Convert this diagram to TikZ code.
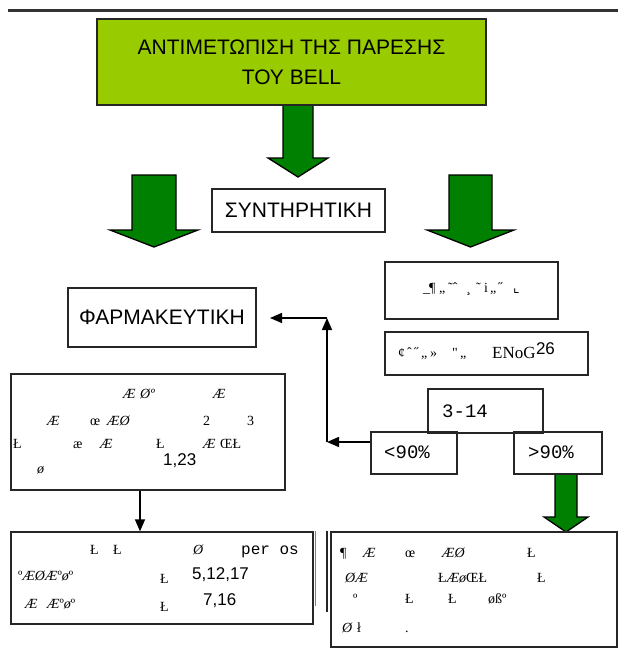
\documentclass[tikz,border=0pt]{standalone}
\usepackage{fontspec}
\setmainfont{Liberation Sans}
\newfontfamily\garbfont{Liberation Serif}
\newfontfamily\codefont{Liberation Mono}
\newfontfamily\symfont{DejaVu Sans}
\usetikzlibrary{
  arrows.meta,
  positioning,
}
\definecolor{titlegreen}{HTML}{99CC00}
\definecolor{arrowgreen}{HTML}{008000}
\tikzset{
  >={Triangle[length=12pt,width=10pt]},
}

\begin{document}
\begin{tikzpicture}[x=1pt, y=-1pt,
      box/.style={draw=black!85, line width=1.3pt, inner sep=0pt},
      label/.style={font=\fontsize{21}{30}\selectfont},
      garb/.style={font=\garbfont\fontsize{14}{16}\selectfont, anchor=base west, inner sep=0pt},
      refs/.style={font=\fontsize{17}{17}\selectfont, anchor=base west, inner sep=0pt},
      code/.style={font=\codefont\fontsize{19}{19}\selectfont, anchor=base west, inner sep=0pt},
      fatarrow/.style={draw=black, line width=1.3pt, fill=arrowgreen, line join=miter},
      conn/.style={draw=black, line width=1.5pt},
    ]
      \useasboundingbox (0,0) rectangle (618,648);
      \fill[white] (0,0) rectangle (618,648);
      % header rule
      \draw[line width=2.5pt, black!80] (8,10.5) -- (618,10.5);

      % block arrows
      \foreach \cx/\top/\sw/\hw/\base/\tip in {298/105/15/30/158/177, 154/175/22/44/230/247,
                                               470.5/175/21.5/43.5/230/247, 566/474/11/22/517/532}
        \draw[fatarrow] (\cx-\sw,\top) -- (\cx+\sw,\top) -- (\cx+\sw,\base) -- (\cx+\hw,\base)
                        -- (\cx,\tip) -- (\cx-\hw,\base) -- (\cx-\sw,\base) -- cycle;

      % boxes
      \node[box, label, fill=titlegreen, align=center, minimum width=389pt, minimum height=86pt]
        (title) at (291.5,62) {ΑΝΤΙΜΕΤΩΠΙΣΗ ΤΗΣ ΠΑΡΕΣΗΣ\\ΤΟΥ BELL};
      \node[box, label, fill=white, minimum width=173pt, minimum height=43pt] (conserv) at (298.5,210.5) {ΣΥΝΤΗΡΗΤΙΚΗ};
      \node[box, label, minimum width=188pt, minimum height=59pt] (pharma) at (162,317.5) {ΦΑΡΜΑΚΕΥΤΙΚΗ};
      \node[box, minimum width=173pt, minimum height=57pt] (physio) at (471.5,290.5) {};
      \node[box, minimum width=203pt, minimum height=43pt] (enog) at (486.5,353.5) {};
      \node[box, minimum width=115pt, minimum height=44pt] (score) at (485.5,411) {};
      \node[box, minimum width=86pt, minimum height=42pt] (low) at (414,453) {};
      \node[box, minimum width=88pt, minimum height=42pt] (high) at (558,453) {};
      \node[box, minimum width=274pt, minimum height=116pt] (drugs) at (148,432) {};
      \node[box, minimum width=302pt, minimum height=92pt] (dosage) at (162,578) {};
      \node[box, minimum width=286pt, minimum height=115pt] (surgery) at (474,589.5) {};
      \draw[gray, line width=0.8pt] ([xshift=1.5pt]dosage.north east) -- ++(0,75);
      \draw[black!85, line width=2pt] ([xshift=-3.5pt]surgery.north west) -- ++(0,81);

      % connectors
      \coordinate (jlow) at (327,442);
      \coordinate (jtop) at (327,318);
      \coordinate (jpharm) at (270,318);
      \draw[conn, ->] (low.west |- jlow) -- (jlow);
      \draw[conn, ->] (jlow) -- (jtop);
      \draw[conn, ->] (jtop) -- (jpharm);
      \draw[conn, ->] ([xshift=-8pt]drugs.south) -- ([xshift=-8pt]drugs.south |- dosage.north);

      % texts of the right column
      \foreach \x/\t [count=\i] in {423/\_, 429/¶, 439/„, 448/˜ˆ, 466/¸, 476/˜, 484/i, 490/„, 498/˝, 513/{\symfont ⌞}}
        \node[garb] (physio-\i) at (\x,292) {\t};
      \foreach \x/\t [count=\i] in {398/¢, 407/ˆ, 414/˝, 421/„, 430/», 452/", 460/„}
        \node[garb] (enog-\i) at (\x,357) {\t};
      \node[garb, font=\garbfont\fontsize{17}{17}\selectfont] (enog-name) at (492,358) {ENoG};
      \node[refs] (enog-ref) at (enog-name.north east) [anchor=north west, yshift=4pt] {26};
      \node[code] (score-t) at (442,417) {3-14};
      \node[code] (low-t) at (384,458) {<90\%};
      \node[code] (high-t) at (528,458) {>90\%};

      % texts of the drug box
      \foreach \x/\t [count=\i] in {123/{\itshape Æ}, 140/{\itshape Øº}, 213/{\itshape Æ}}
        \node[garb] (drugs-a\i) at (\x,398) {\t};
      \foreach \x/\t [count=\i] in {47/{\itshape Æ}, 90/œ, 107/{\itshape ÆØ}, 203/2, 247/3}
        \node[garb] (drugs-b\i) at (\x,425) {\t};
      \foreach \x/\t [count=\i] in {13/Ł, 73/æ, 100/{\itshape Æ}, 156/Ł, 203/{\itshape Æ}, 220/ŒŁ}
        \node[garb] (drugs-c\i) at (\x,448) {\t};
      \node[refs] (drugs-ref) at (163,465) {1,23};
      \node[garb] (drugs-d1) at (37,473) {\itshape ø};

      % texts of the dosage box
      \foreach \x/\t [count=\i] in {90/Ł, 113/Ł, 193/{\itshape Ø}}
        \node[garb] (dosage-a\i) at (\x,554) {\t};
      \node[code, font=\codefont\fontsize{16}{16}\selectfont] (dosage-po) at (241,554) {per os};
      \node[garb] (dosage-b1) at (18,580) {º\itshape ÆØÆ\upshape º\itshape ø\upshape º};
      \node[garb] (dosage-b2) at (160,583) {Ł};
      \node[refs] (dosage-ref1) at (192,579) {5,12,17};
      \node[garb] (dosage-c1) at (25,608) {\itshape Æ};
      \node[garb] (dosage-c2) at (47,608) {\itshape Æ\upshape º\itshape ø\upshape º};
      \node[garb] (dosage-c3) at (160,611) {Ł};
      \node[refs] (dosage-ref2) at (203,605) {7,16};

      % texts of the surgery box
      \foreach \x/\t [count=\i] in {340/¶, 363/{\itshape Æ}, 405/œ, 442/{\itshape ÆØ}, 527/Ł}
        \node[garb] (surgery-a\i) at (\x,557) {\t};
      \foreach \x/\t [count=\i] in {345/{\itshape ØÆ}, 438/Ł{\itshape Æø}ŒŁ, 537/Ł}
        \node[garb] (surgery-b\i) at (\x,582) {\t};
      \foreach \x/\t [count=\i] in {353/º, 405/Ł, 448/Ł, 488/øßº}
        \node[garb] (surgery-c\i) at (\x,603) {\t};
      \foreach \x/\t [count=\i] in {342/{\itshape Ø}, 357/ł, 405/.}
        \node[garb] (surgery-d\i) at (\x,632) {\t};
\end{tikzpicture}
\end{document}
